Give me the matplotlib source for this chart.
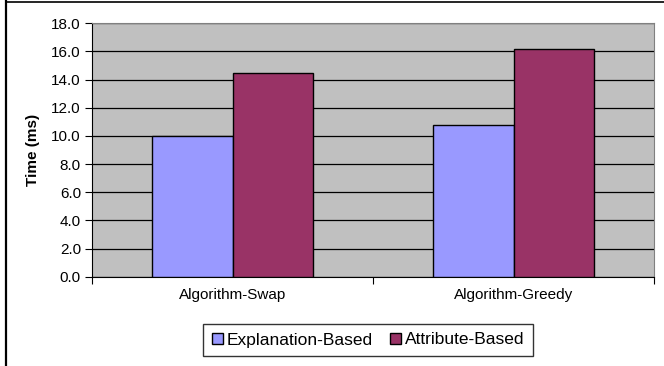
import matplotlib.pyplot as plt
from matplotlib.lines import Line2D
import numpy as np

plt.rcParams['font.family'] = ['Liberation Sans', 'DejaVu Sans']

categories = ['Algorithm-Swap', 'Algorithm-Greedy']
series_names = ['Explanation-Based', 'Attribute-Based']
explanation = [10.0, 10.75]
attribute = [14.5, 16.15]
colors = ['#9999FF', '#993366']

fig = plt.figure(figsize=(6.64, 3.66), dpi=100)
ax = fig.add_axes([92 / 664, 1 - 276.7 / 366, 562 / 664, 253.4 / 366])
ax.set_facecolor('#C0C0C0')

x = np.arange(len(categories))
w = 0.285
ax.bar(x - w / 2, explanation, w, color=colors[0], edgecolor='black', linewidth=1,
       label=series_names[0], zorder=3)
ax.bar(x + w / 2, attribute, w, color=colors[1], edgecolor='black', linewidth=1,
       label=series_names[1], zorder=3)

ax.set_xlim(-0.5, len(categories) - 0.5)
ax.set_ylim(0, 18)
ax.set_yticks(np.arange(0, 18.1, 2))
ax.set_yticklabels(['%.1f' % v for v in np.arange(0, 18.1, 2)], fontsize=11)
ax.yaxis.grid(True, color='black', linewidth=0.9)
ax.set_axisbelow(True)

# category labels between boundary tick marks
ax.set_xticks(np.arange(-0.5, len(categories), 1))
ax.set_xticklabels([])
ax.set_xticks(x, minor=True)
ax.set_xticklabels(categories, minor=True, fontsize=11)
ax.tick_params(axis='x', which='minor', length=0, pad=8)
ax.tick_params(axis='x', which='major', length=5, direction='out')
ax.tick_params(axis='y', length=5, direction='out', pad=3)

ax.set_ylabel('Time (ms)', fontsize=11, fontweight='bold', labelpad=8)

for s in ['top', 'right']:
    ax.spines[s].set_color('#808080')
for s in ['left', 'bottom']:
    ax.spines[s].set_color('black')

leg = fig.legend(loc='center', bbox_to_anchor=(368 / 664, 1 - 340 / 366), ncol=2,
                 fontsize=12.5, frameon=True, fancybox=False, handlelength=0.65,
                 handleheight=0.65, handletextpad=0.2, columnspacing=1.0,
                 borderpad=0.5)
leg.get_frame().set_edgecolor('black')
leg.get_frame().set_linewidth(1)

# outer chart frame: only left and top edges are inside the crop
fig.add_artist(Line2D([6 / 664, 6 / 664], [0, 1], transform=fig.transFigure,
                      color='black', linewidth=1.6))
fig.add_artist(Line2D([6 / 664, 1], [1 - 1.5 / 366, 1 - 1.5 / 366], transform=fig.transFigure,
                      color='black', linewidth=1.2))

fig.savefig('out.png', dpi=100)
